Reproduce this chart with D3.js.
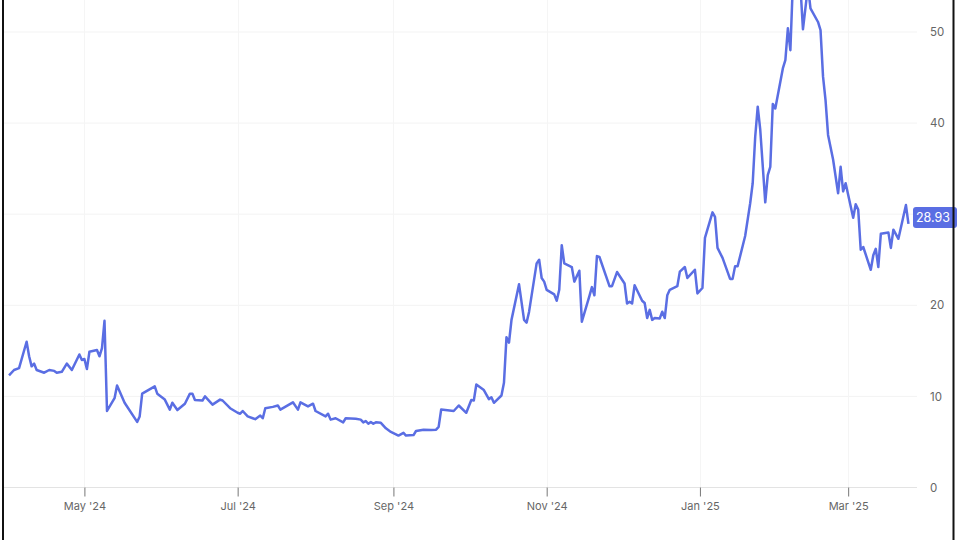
<!DOCTYPE html>
<html><head><meta charset="utf-8">
<script src="https://cdn.jsdelivr.net/npm/d3@7"></script>
<style>html,body{margin:0;padding:0;background:#fff;}svg{display:block;}</style>
</head><body>
<svg id="chart" width="960" height="540"></svg>
<script>
const dates = ["2024-04-01","2024-04-03","2024-04-05","2024-04-08","2024-04-09","2024-04-10","2024-04-11","2024-04-12","2024-04-15","2024-04-17","2024-04-19","2024-04-20","2024-04-22","2024-04-24","2024-04-26","2024-04-29","2024-04-30","2024-05-01","2024-05-02","2024-05-03","2024-05-06","2024-05-07","2024-05-08","2024-05-09","2024-05-10","2024-05-13","2024-05-14","2024-05-17","2024-05-22","2024-05-23","2024-05-24","2024-05-29","2024-05-30","2024-06-02","2024-06-04","2024-06-05","2024-06-07","2024-06-10","2024-06-12","2024-06-13","2024-06-14","2024-06-17","2024-06-18","2024-06-21","2024-06-24","2024-06-25","2024-06-28","2024-07-01","2024-07-02","2024-07-03","2024-07-05","2024-07-07","2024-07-08","2024-07-10","2024-07-11","2024-07-12","2024-07-15","2024-07-17","2024-07-18","2024-07-23","2024-07-25","2024-07-26","2024-07-29","2024-07-31","2024-08-01","2024-08-05","2024-08-06","2024-08-07","2024-08-09","2024-08-12","2024-08-13","2024-08-17","2024-08-19","2024-08-20","2024-08-21","2024-08-22","2024-08-23","2024-08-24","2024-08-25","2024-08-27","2024-08-29","2024-08-31","2024-09-03","2024-09-05","2024-09-06","2024-09-09","2024-09-10","2024-09-13","2024-09-16","2024-09-18","2024-09-19","2024-09-20","2024-09-25","2024-09-27","2024-09-30","2024-10-02","2024-10-03","2024-10-04","2024-10-07","2024-10-09","2024-10-10","2024-10-11","2024-10-14","2024-10-15","2024-10-16","2024-10-17","2024-10-18","2024-10-21","2024-10-23","2024-10-24","2024-10-25","2024-10-28","2024-10-29","2024-10-30","2024-10-31","2024-11-01","2024-11-04","2024-11-05","2024-11-06","2024-11-07","2024-11-08","2024-11-11","2024-11-12","2024-11-14","2024-11-15","2024-11-18","2024-11-19","2024-11-20","2024-11-21","2024-11-22","2024-11-26","2024-11-27","2024-11-29","2024-12-02","2024-12-03","2024-12-04","2024-12-05","2024-12-06","2024-12-09","2024-12-10","2024-12-11","2024-12-12","2024-12-13","2024-12-14","2024-12-16","2024-12-17","2024-12-18","2024-12-19","2024-12-20","2024-12-23","2024-12-24","2024-12-26","2024-12-27","2024-12-30","2024-12-31","2025-01-02","2025-01-03","2025-01-06","2025-01-07","2025-01-08","2025-01-10","2025-01-13","2025-01-14","2025-01-15","2025-01-16","2025-01-19","2025-01-21","2025-01-22","2025-01-23","2025-01-24","2025-01-25","2025-01-27","2025-01-28","2025-01-29","2025-01-30","2025-01-31","2025-02-03","2025-02-04","2025-02-05","2025-02-06","2025-02-07","2025-02-09","2025-02-10","2025-02-11","2025-02-13","2025-02-14","2025-02-17","2025-02-18","2025-02-19","2025-02-20","2025-02-21","2025-02-23","2025-02-25","2025-02-26","2025-02-27","2025-02-28","2025-03-03","2025-03-04","2025-03-05","2025-03-06","2025-03-07","2025-03-10","2025-03-11","2025-03-12","2025-03-13","2025-03-14","2025-03-17","2025-03-18","2025-03-19","2025-03-21","2025-03-24","2025-03-25"];
const values = [12.3,12.9,13.1,16.0,14.4,13.3,13.6,12.9,12.6,12.9,12.8,12.6,12.7,13.6,12.9,14.6,14.0,14.1,13.0,14.9,15.1,14.4,15.3,18.3,8.4,9.8,11.2,9.3,7.2,7.8,10.3,11.1,10.3,9.65,8.55,9.3,8.5,9.2,10.3,10.3,9.6,9.55,10.0,9.1,9.65,9.55,8.7,8.2,8.1,8.4,7.8,7.6,7.5,7.9,7.6,8.7,8.85,9.0,8.55,9.35,8.55,9.35,8.9,9.2,8.4,7.8,8.1,7.45,7.6,7.15,7.6,7.55,7.45,7.15,7.3,7.0,7.2,7.0,7.15,7.1,6.5,6.1,5.7,6.0,5.7,5.75,6.2,6.35,6.3,6.35,6.65,8.55,8.4,9.0,8.2,9.6,9.55,11.3,10.7,9.7,9.9,9.3,10.1,11.5,16.5,15.9,18.4,22.3,18.4,18.1,19.3,24.6,25.0,23.0,22.6,21.7,21.2,20.5,21.7,26.6,24.6,24.2,22.6,23.8,18.2,21.0,22.0,21.1,25.4,25.3,22.1,22.1,23.65,22.4,20.2,20.4,20.2,22.2,20.5,20.25,18.6,19.5,18.4,18.6,18.55,19.3,18.6,21.1,21.7,22.1,23.7,24.2,23.0,23.9,21.3,21.9,27.4,30.2,29.7,26.3,25.2,22.9,22.9,24.3,24.3,27.6,31.2,33.4,38.5,41.8,39.3,31.3,34.3,35.2,42.1,41.6,46.0,46.9,50.4,48.0,55.5,57.0,55.0,50.3,55.0,52.6,51.1,50.2,45.1,42.5,38.7,36.0,32.3,35.2,32.5,33.4,29.6,31.1,30.5,26.1,26.4,23.9,25.5,26.2,24.2,27.85,28.0,26.3,28.3,27.3,31.0,28.93];
const yTicks = [0,10,20,30,40,50];
const xTickDates = ["2024-05-01","2024-07-01","2024-09-01","2024-11-01","2025-01-01","2025-03-01"];
const xTickLabels = ["May '24","Jul '24","Sep '24","Nov '24","Jan '25","Mar '25"];

const parse = d3.timeParse("%Y-%m-%d");
const data = dates.map((d,i)=>({date:parse(d), value:values[i]}));
const svg = d3.select("#chart");
const font = "Inter, 'Open Sans', sans-serif";
const lineColor = "#5a6ee3";

const x = d3.scaleTime().domain([parse("2024-03-30"), parse("2025-03-28")]).range([4, 916]);
const y = d3.scaleLinear().domain([0, 50]).range([487.5, 32]);

// horizontal gridlines
svg.append("g").selectAll("line").data(yTicks).join("line")
  .attr("x1", 4).attr("x2", 917)
  .attr("y1", d=>y(d)).attr("y2", d=>y(d))
  .attr("stroke", d=> d===0 ? "#e3e3e3" : "#f3f3f3").attr("stroke-width", 1);

// vertical gridlines
const xt = xTickDates.map(parse);
svg.append("g").selectAll("line").data(xt).join("line")
  .attr("x1", d=>Math.round(x(d))+0.5).attr("x2", d=>Math.round(x(d))+0.5)
  .attr("y1", 0).attr("y2", y(0))
  .attr("stroke", "#f5f5f5").attr("stroke-width", 1);

// x axis
const xAxis = d3.axisBottom(x).tickValues(xt).tickFormat((d,i)=>xTickLabels[i]).tickSize(9).tickPadding(6).tickSizeOuter(0);
const gx = svg.append("g").attr("transform", `translate(0,${y(0)})`).call(xAxis);
gx.select(".domain").remove();
gx.selectAll(".tick line").attr("stroke", "#777");
gx.selectAll(".tick text").attr("fill", "#666").attr("font-family", font).attr("font-size", 11);

// y axis labels
const yAxis = d3.axisRight(y).tickValues(yTicks).tickSize(0).tickPadding(0);
const gy = svg.append("g").attr("transform", "translate(930,0)").call(yAxis);
gy.select(".domain").remove();
gy.selectAll(".tick text").attr("fill", "#666").attr("font-family", font).attr("font-size", 11.5).attr("dy", "0.32em");

// line
const line = d3.line().x(d=>x(d.date)).y(d=>y(d.value));
svg.append("path").datum(data).attr("d", line)
  .attr("fill", "none").attr("stroke", lineColor).attr("stroke-width", 2.5)
  .attr("stroke-linejoin", "round");

// last value label
const last = data[data.length-1];
const ly = y(last.value) - 6.5;
const lg = svg.append("g").attr("transform", `translate(913,${ly})`);
lg.append("rect").attr("x", 0).attr("y", -10.5).attr("width", 44).attr("height", 21).attr("rx", 3)
  .attr("fill", lineColor);
lg.append("text").attr("x", 3).attr("y", 0).attr("dy", "0.35em")
  .attr("fill", "#fff").attr("font-family", font).attr("font-size", 12.5)
  .text(d3.format(".2f")(last.value));

// frame borders
svg.append("line").attr("x1", 3).attr("x2", 3).attr("y1", 0).attr("y2", 540).attr("stroke", "#111").attr("stroke-width", 2);
svg.append("line").attr("x1", 953.5).attr("x2", 953.5).attr("y1", 0).attr("y2", 540).attr("stroke", "#111").attr("stroke-width", 2);
</script>
</body></html>
